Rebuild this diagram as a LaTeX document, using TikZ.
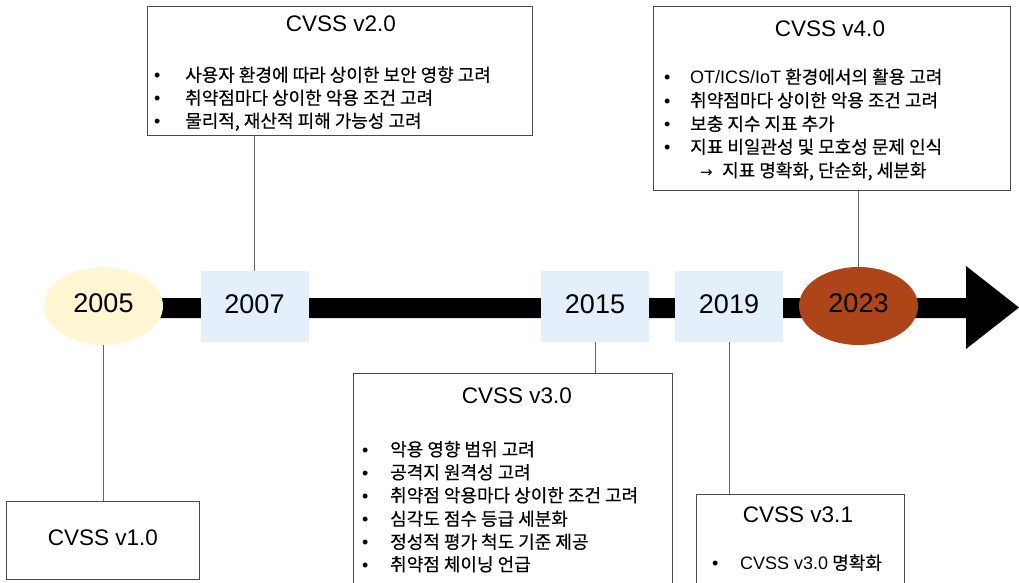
\documentclass[tikz,border=0pt]{standalone}
\usepackage{fontspec}
\setmainfont{Noto Sans CJK KR}[FakeBold=0.35]
\newfontfamily\lat{Liberation Sans}
\newfontfamily\sym{DejaVu Sans}
\usetikzlibrary{shapes.geometric}

\definecolor{boxline}{HTML}{4A4A4A}
\definecolor{linkgray}{HTML}{666666}
\definecolor{yearblue}{HTML}{E3F0FC}
\definecolor{ovalcream}{HTML}{FFF6D3}
\definecolor{ovalrust}{HTML}{AE4519}

% bullet line: bullet, then the text at a fixed indent
\newcommand\itm[2][28pt]{\makebox[#1][l]{\lat •}#2}

\begin{document}
\begin{tikzpicture}[x=1pt,y=-1pt,
  infobox/.style={draw=boxline, line width=1.3pt, fill=white, inner sep=0pt, anchor=north west},
  yearbox/.style={rectangle, fill=yearblue, minimum width=108pt, minimum height=71pt, inner sep=0pt,
    font=\lat\fontsize{27}{30}\selectfont, text height=20pt, text depth=7pt},
  yearoval/.style={ellipse, minimum width=119pt, minimum height=78pt, inner sep=0pt,
    font=\lat\fontsize{27}{30}\selectfont, text height=20pt, text depth=7pt},
  title/.style={anchor=base, inner sep=0pt, font=\lat\fontsize{22.5}{27}\selectfont},
  item/.style={anchor=base west, inner sep=0pt, font=\fontsize{18}{23}\selectfont},
  link/.style={draw=linkgray, line width=0.9pt}]
\useasboundingbox (0,0) rectangle (1019,583);

% timeline arrow
\fill[black] (103,298) -- (966,298) -- (966,266) -- (1019,307.5) -- (966,349)
  -- (966,318) -- (103,318) -- cycle;

% years on the timeline
\node[yearoval, fill=ovalcream] (y2005) at (103.5,306) {2005};
\node[yearbox] (y2007) at (254.5,306.5) {2007};
\node[yearbox] (y2015) at (595,306.5) {2015};
\node[yearbox] (y2019) at (729,306.5) {2019};
\node[yearoval, fill=ovalrust] (y2023) at (858.5,306) {2023};

% version boxes
\node[infobox, minimum width=193pt, minimum height=78pt] (v1) at (6,501) {};
\node[infobox, minimum width=385pt, minimum height=129pt] (v2) at (147,6) {};
\node[infobox, minimum width=319pt, minimum height=240pt] (v30) at (353,373) {};
\node[infobox, minimum width=208pt, minimum height=120pt] (v31) at (696,494) {};
\node[infobox, minimum width=357pt, minimum height=184pt] (v4) at (653,6) {};

% CVSS v1.0
\node[title] (t1) at (103,545) {CVSS v1.0};

% CVSS v2.0
\node[title] (t2) at (341,32) {CVSS v2.0};
\node[item] (v2a) at (154,81.5) {\itm[31pt]{사용자 환경에 따라 상이한 보안 영향 고려}};
\node[item] (v2b) at (154,104.5) {\itm[31pt]{취약점마다 상이한 악용 조건 고려}};
\node[item] (v2c) at (154,127.5) {\itm[31pt]{물리적, 재산적 피해 가능성 고려}};

% CVSS v3.0
\node[title] (t30) at (517,403) {CVSS v3.0};
\node[item] (v30a) at (362,456) {\itm{악용 영향 범위 고려}};
\node[item] (v30b) at (362,479) {\itm{공격지 원격성 고려}};
\node[item] (v30c) at (362,502) {\itm{취약점 악용마다 상이한 조건 고려}};
\node[item] (v30d) at (362,525.5) {\itm{심각도 점수 등급 세분화}};
\node[item] (v30e) at (362,548.5) {\itm{정성적 평가 척도 기준 제공}};
\node[item] (v30f) at (362,571) {\itm{취약점 체이닝 언급}};

% CVSS v3.1
\node[title] (t31) at (798,522) {CVSS v3.1};
\node[item] (v31a) at (712,569.5) {\itm[28pt]{{\lat CVSS v3.0} 명확화}};

% CVSS v4.0
\node[title] (t4) at (830,37) {CVSS v4.0};
\node[item] (v4a) at (664,83.5) {\itm[26pt]{{\lat OT/ICS/IoT} 환경에서의 활용 고려}};
\node[item] (v4b) at (664,107) {\itm[26pt]{취약점마다 상이한 악용 조건 고려}};
\node[item] (v4c) at (664,130.5) {\itm[26pt]{보충 지수 지표 추가}};
\node[item] (v4d) at (664,153.5) {\itm[26pt]{지표 비일관성 및 모호성 문제 인식}};
\node[item] (v4e) at (700,177) {\makebox[22pt][l]{\sym\fontsize{15}{15}\selectfont →}지표 명확화, 단순화, 세분화};

% connectors from the years to their boxes
\draw[link] (y2005.south) -- (y2005.south |- v1.north);
\draw[link] (y2007.north) -- (y2007.north |- v2.south);
\draw[link] (y2015.south) -- (y2015.south |- v30.north);
\draw[link] (y2019.south) -- (y2019.south |- v31.north);
\draw[link] (y2023.north) -- (y2023.north |- v4.south);
\end{tikzpicture}
\end{document}
